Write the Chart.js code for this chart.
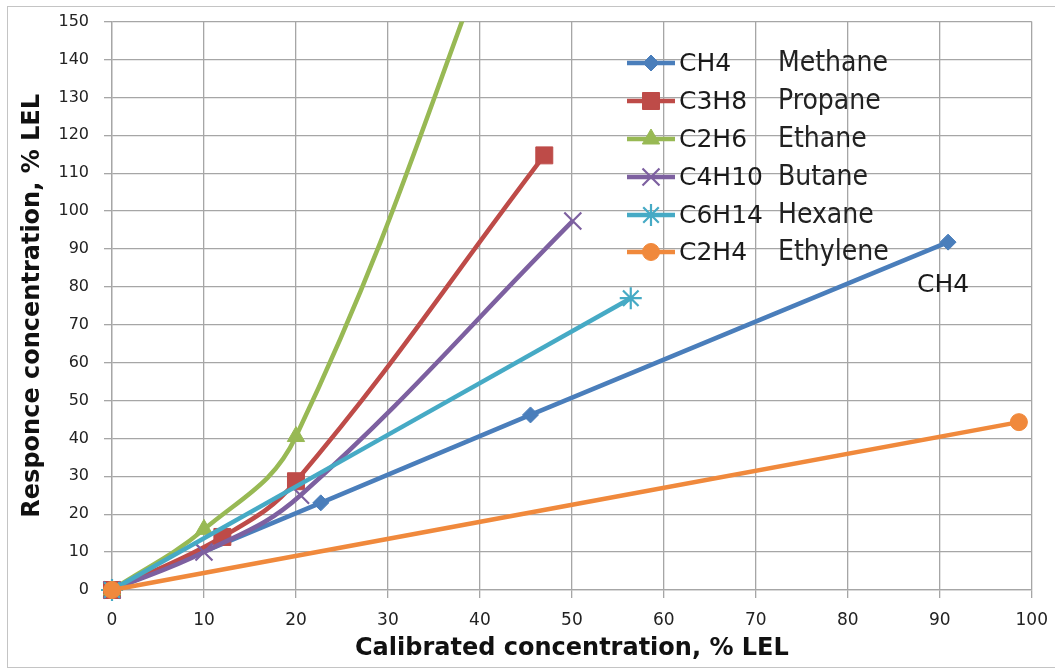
<!DOCTYPE html>
<html>
<head>
<meta charset="utf-8">
<script src="https://cdn.jsdelivr.net/npm/chart.js@4.4.1/dist/chart.umd.min.js"></script>
<style>
  html, body { margin: 0; padding: 0; background: #fff; overflow: hidden; }
  #wrap { position: relative; width: 1055px; height: 669px; overflow: hidden; }
  #frame { position: absolute; left: 7px; top: 6px; width: 1060px; height: 660px;
           border-left: 1px solid #c4c4c4; border-top: 1px solid #c4c4c4; border-bottom: 1px solid #c4c4c4; }
  #c { position: absolute; left: 0; top: -3px; }
</style>
</head>
<body>
<div id="wrap">
  <div id="frame"></div>
  <canvas id="c" width="1060" height="672"></canvas>
</div>
<script>
// gases
const formulas = ['CH4', 'C3H8', 'C2H6', 'C4H10', 'C6H14', 'C2H4'];
const names = ['Methane', 'Propane', 'Ethane', 'Butane', 'Hexane', 'Ethylene'];

// calibrated (x) vs response (y), % LEL
const ch4X = [0, 22.7, 45.5, 90.9];
const ch4Y = [0, 23, 46.2, 91.8];
const c3h8X = [0, 12, 20, 47];
const c3h8Y = [0, 14, 28.7, 114.7];
const c2h6X = [0, 10, 20, 45];
const c2h6Y = [0, 16, 40.5, 195];
const c4h10X = [0, 10, 20.5, 50.1];
const c4h10Y = [0, 10, 25, 97.4];
const c6h14X = [0, 56.4];
const c6h14Y = [0, 77];
const c2h4X = [0, 98.6];
const c2h4Y = [0, 44.3];

const xTicks = [0, 10, 20, 30, 40, 50, 60, 70, 80, 90, 100];
const yTicks = [0, 10, 20, 30, 40, 50, 60, 70, 80, 90, 100, 110, 120, 130, 140, 150];

const colors = ['#4a7ebb', '#be4b48', '#98b954', '#7d60a0', '#46aac5', '#f0893c'];
const markers = ['rectRot', 'rect', 'triangle', 'crossRot', 'star', 'circle'];
const markerSize = [8, 12, 10, 12, 11, 8.5];

const xs = [ch4X, c3h8X, c2h6X, c4h10X, c6h14X, c2h4X];
const ys = [ch4Y, c3h8Y, c2h6Y, c4h10Y, c6h14Y, c2h4Y];

const pts = (x, y) => x.map((v, i) => ({ x: v, y: y[i] }));

const datasets = formulas.map((f, i) => ({
  label: f,
  data: pts(xs[i], ys[i]),
  borderColor: colors[i],
  backgroundColor: colors[i],
  borderWidth: 4.5,
  tension: 0.4,
  pointStyle: markers[i],
  pointRadius: markerSize[i],
  pointBackgroundColor: colors[i],
  pointBorderColor: colors[i],
  pointBorderWidth: (markers[i] === 'crossRot' || markers[i] === 'star') ? 2.2 : 1,
  order: formulas.length - i,
  clip: { left: 20, right: 20, top: 0, bottom: 20 },
}));

// legend rows, in canvas pixels (canvas is shifted up by 3px)
const legendY = [66, 104, 142, 180, 218, 255];

const overlay = {
  id: 'overlay',
  afterDraw(chart) {
    const ctx = chart.ctx;
    ctx.save();
    chart.data.datasets.forEach((ds, i) => {
      const y = legendY[i];
      ctx.strokeStyle = ds.borderColor;
      ctx.lineWidth = ds.borderWidth;
      ctx.beginPath();
      ctx.moveTo(627, y);
      ctx.lineTo(675, y);
      ctx.stroke();
      ctx.fillStyle = ds.pointBackgroundColor;
      ctx.strokeStyle = ds.pointBorderColor;
      ctx.lineWidth = ds.pointBorderWidth;
      Chart.helpers.drawPoint(ctx, {
        pointStyle: ds.pointStyle, radius: ds.pointRadius, rotation: 0, borderWidth: ds.pointBorderWidth
      }, 651, y);
      ctx.fillStyle = '#1a1a1a';
      ctx.textBaseline = 'middle';
      ctx.textAlign = 'left';
      ctx.font = '25px "DejaVu Sans"';
      ctx.fillText(formulas[i], 679, y + 1);
      ctx.font = '28px "Liberation Sans Narrow", "DejaVu Sans Condensed", sans-serif';
      ctx.fillStyle = '#222';
      ctx.fillText(names[i], 778, y + 1);
    });
    // series label next to the methane end point
    const sx = chart.scales.x, sy = chart.scales.y;
    ctx.font = '25px "DejaVu Sans"';
    ctx.textAlign = 'center';
    ctx.fillStyle = '#1a1a1a';
    ctx.fillText('CH4', sx.getPixelForValue(ch4X[3]) - 5, sy.getPixelForValue(ch4Y[3]) + 43);
    ctx.restore();
  }
};

new Chart(document.getElementById('c'), {
  type: 'line',
  data: { datasets },
  plugins: [overlay],
  options: {
    responsive: false,
    animation: false,
    events: [],
    layout: { padding: { left: 0, right: 0, top: 17, bottom: 0 } },
    plugins: { legend: { display: false }, tooltip: { enabled: false } },
    scales: {
      x: {
        type: 'linear',
        min: 0, max: 100,
        afterBuildTicks: s => { s.ticks = xTicks.map(v => ({ value: v })); },
        afterFit: s => { s.height = 79; },
        grid: { color: '#a6a6a6', lineWidth: 1.3, tickLength: 8 },
        border: { color: '#a6a6a6', width: 1.3 },
        ticks: { color: '#222', font: { family: 'DejaVu Sans', size: 17 }, padding: 12, maxRotation: 0 },
        title: {
          display: true, text: 'Calibrated concentration, % LEL', color: '#111',
          font: { family: 'DejaVu Sans', size: 24, weight: 'bold' }, padding: { top: 0, bottom: 6 }
        }
      },
      y: {
        type: 'linear',
        min: 0, max: 150,
        afterBuildTicks: s => { s.ticks = yTicks.map(v => ({ value: v })); },
        afterFit: s => { s.width = 112; },
        grid: { color: '#a6a6a6', lineWidth: 1.3, tickLength: 8 },
        border: { color: '#a6a6a6', width: 1.3 },
        ticks: { color: '#222', font: { family: 'DejaVu Sans', size: 16 }, padding: 15 },
        title: {
          display: true, text: 'Responce concentration, % LEL', color: '#111',
          font: { family: 'DejaVu Sans', size: 24, weight: 'bold' }, padding: { top: 18, bottom: 0 }
        }
      }
    }
  }
});
</script>
</body>
</html>
